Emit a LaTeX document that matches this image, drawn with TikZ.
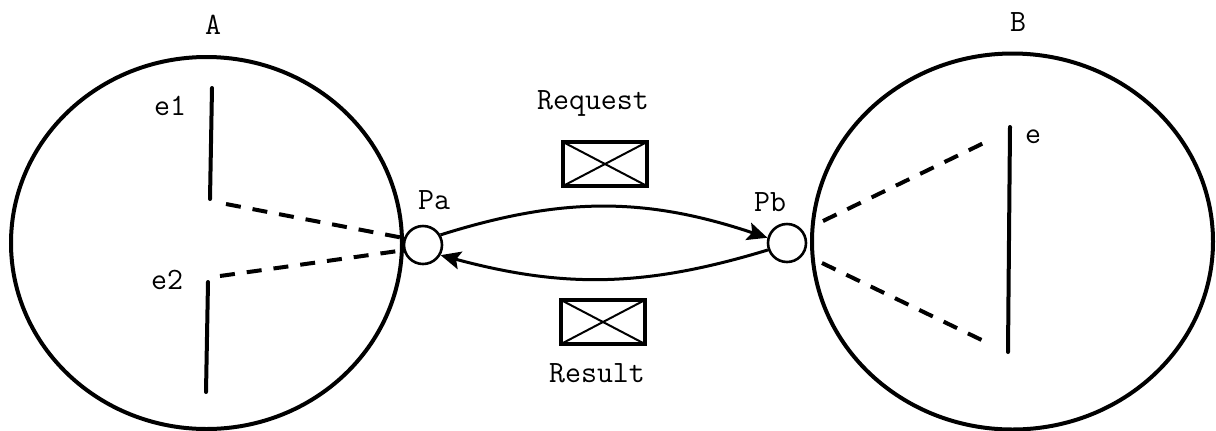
\documentclass[tikz,border=0pt]{standalone}
\usetikzlibrary{arrows.meta,shapes.geometric}

\begin{document}
\begin{tikzpicture}[x=0.5pt,y=-0.5pt,
        lbl/.style={font=\ttfamily\fontsize{15.5}{18}\selectfont,inner sep=0pt},
        site/.style={ellipse,draw,line width=2pt,inner sep=0pt},
        port/.style={circle,draw,line width=1.3pt,minimum size=19pt,inner sep=0pt},
        envelope/.style={draw,line width=2.2pt,minimum width=42pt,minimum height=22pt,inner sep=0pt,
            path picture={\draw[line width=1pt] (path picture bounding box.north west)--(path picture bounding box.south east)
                (path picture bounding box.south west)--(path picture bounding box.north east);}},
        event/.style={line width=2pt},
        link/.style={line width=2pt,dash pattern=on 7.5pt off 6pt},
        msg/.style={line width=1.5pt,-{Stealth[length=10pt,width=9pt,inset=2pt]}}]
    \useasboundingbox (0,0) rectangle (1216,430);
    \node [site,minimum width=195.5pt,minimum height=186pt] (A) at (206.5,243) {};
    \node [site,minimum width=200.5pt,minimum height=188pt] (B) at (1012.5,241.5) {};
    \node [lbl] (Alab) at (213,25) {A};
    \node [lbl] (Blab) at (1018,22) {B};
    \node [port,fill=white] (Pa) at (423,245) {};
    \node [port,fill=white] (Pb) at (787,243) {};
    \node [lbl] (Palab) at (434,200) {Pa};
    \node [lbl] (Pblab) at (770,202) {Pb};
    \node [envelope] (req) at (605,164) {};
    \node [envelope] (res) at (603,322) {};
    \node [lbl] (reqlab) at (593,103) {Request};
    \node [lbl] (reslab) at (597,373) {Result};
    \node [lbl] (e1lab) at (170,106) {e1};
    \node [lbl] (e2lab) at (167,280) {e2};
    \node [lbl] (elab) at (1033,137) {e};
    \coordinate (e1t) at (212,88);
    \coordinate (e1b) at (210,199);
    \coordinate (e2t) at (208,282);
    \coordinate (e2b) at (206,392);
    \coordinate (et) at (1010,127);
    \coordinate (eb) at (1008,352);
    \coordinate (d1) at (226,204);
    \coordinate (d2) at (220,276);
    \coordinate (d3) at (992,139);
    \coordinate (d4) at (992,345);
    \coordinate (d5) at (823,221);
    \coordinate (d6) at (822,263);
    \draw [event,line cap=round] (e1t)--(e1b) (e2t)--(e2b) (et)--(eb);
    \draw [link] (d1)--(Pa.160) (d2)--(Pa.195);
    \draw [link] (d5)--(d3) (d6)--(d4);
    \draw [msg] (Pa.30) to [bend left=18] (Pb.165);
    \draw [msg] (Pb.200) to [bend left=16] (Pa.330);
\end{tikzpicture}
\end{document}
